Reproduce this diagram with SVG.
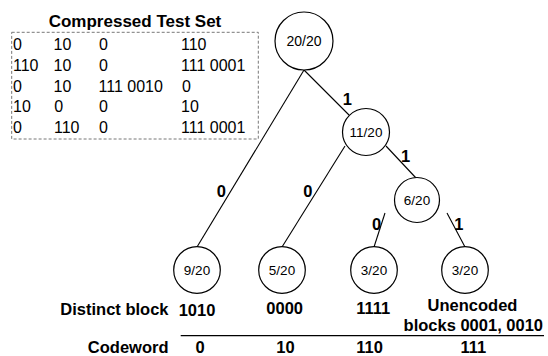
<svg xmlns="http://www.w3.org/2000/svg" width="548" height="356" viewBox="0 0 548 356">
<style>
.tbl{font-family:"Liberation Sans",Arial,sans-serif;font-size:16px;fill:#000}
.b{font-family:"Liberation Sans",Arial,sans-serif;font-weight:bold;font-size:16.5px;fill:#000}
.n{font-family:"Liberation Sans",Arial,sans-serif;font-size:13.5px;fill:#000;text-anchor:middle}
.c{fill:#fff;stroke:#000;stroke-width:1.2}
.e{stroke:#000;stroke-width:1.1;fill:none}
.m{text-anchor:middle}
.r{text-anchor:end}
</style>
<rect width="548" height="356" fill="#fff"/>
<g id="test-set">
<text class="b m" x="135" y="26.5" style="font-size:17px">Compressed Test Set</text>
<rect x="11.7" y="32.3" width="246.6" height="106.7" fill="none" stroke="#777" stroke-width="1" stroke-dasharray="3,2"/>
<g class="tbl">
<text x="13" y="50">0</text><text x="53.5" y="50">10</text><text x="99" y="50">0</text><text x="181" y="50">110</text>
<text x="13" y="71">110</text><text x="53.5" y="71">10</text><text x="99" y="71">0</text><text x="181" y="71">111 0001</text>
<text x="13" y="91.7">0</text><text x="53.5" y="91.7">10</text><text x="98.5" y="91.7">111 0010</text><text x="182" y="91.7">0</text>
<text x="13" y="112.3">10</text><text x="54.3" y="112.3">0</text><text x="99" y="112.3">0</text><text x="181" y="112.3">10</text>
<text x="13" y="133.3">0</text><text x="54" y="133.3">110</text><text x="99" y="133.3">0</text><text x="181" y="133.3">111 0001</text>
</g>
</g>
<g id="connectors">
<line class="e" x1="304" y1="70" x2="197" y2="247"/>
<line class="e" x1="304" y1="70" x2="349" y2="115"/>
<line class="e" x1="345" y1="146" x2="282" y2="247"/>
<line class="e" x1="386" y1="146" x2="416" y2="178"/>
<line class="e" x1="385" y1="213" x2="374" y2="247"/>
<line class="e" x1="447" y1="213" x2="465" y2="247"/>
<g class="b m">
<text x="221.3" y="196.7">0</text>
<text x="347.3" y="105">1</text>
<text x="307.8" y="196.7">0</text>
<text x="405.6" y="161.7">1</text>
<text x="376.7" y="230">0</text>
<text x="458.9" y="230">1</text>
</g>
</g>
<g id="n-root"><circle class="c" cx="304" cy="41" r="29"/><text class="n" x="304" y="46" style="font-size:14px">20/20</text></g>
<g id="n-11"><circle class="c" cx="366" cy="132" r="23.5"/><text class="n" x="366" y="137">11/20</text></g>
<g id="n-6"><circle class="c" cx="417" cy="200" r="22.5"/><text class="n" x="417" y="205">6/20</text></g>
<g id="n-9"><circle class="c" cx="197" cy="270" r="23.3"/><text class="n" x="197" y="275">9/20</text></g>
<g id="n-5"><circle class="c" cx="282" cy="270" r="23.3"/><text class="n" x="282" y="275">5/20</text></g>
<g id="n-3a"><circle class="c" cx="374" cy="270" r="23.3"/><text class="n" x="374" y="275">3/20</text></g>
<g id="n-3b"><circle class="c" cx="465" cy="270" r="23.3"/><text class="n" x="465" y="275">3/20</text></g>
<g id="table-labels">
<text class="b r" x="168.5" y="315">Distinct block</text>
<text class="b m" x="197" y="316">1010</text>
<text class="b m" x="284.7" y="314.3">0000</text>
<text class="b m" x="373.3" y="314.3">1111</text>
<text class="b m" x="472.5" y="311">Unencoded</text>
<text class="b m" x="473.3" y="331">blocks 0001, 0010</text>
<line x1="180.7" y1="335.7" x2="544" y2="335.7" stroke="#000" stroke-width="1.3"/>
<text class="b r" x="168.5" y="353">Codeword</text>
<text class="b m" x="200.2" y="353">0</text>
<text class="b m" x="285.5" y="353">10</text>
<text class="b m" x="369.5" y="353">110</text>
<text class="b m" x="473.3" y="353">111</text>
</g>
</svg>
